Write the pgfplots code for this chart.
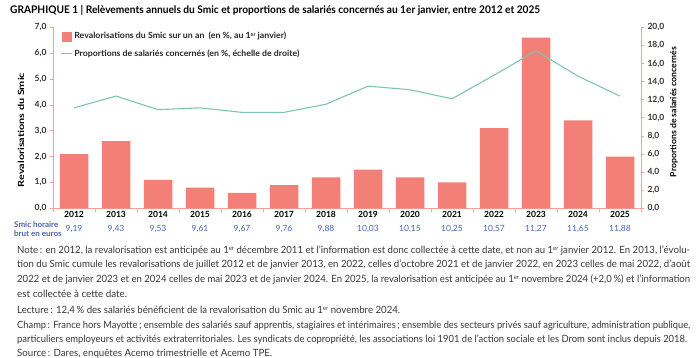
\documentclass[border=0pt]{standalone}
\usepackage{pgfplots}
\pgfplotsset{compat=1.18}
\usepackage{pgfplotstable}
\usepackage{graphicx}
\usepackage{fontspec}
\setmainfont{Lato}
\definecolor{barc}{RGB}{242,128,118}
\definecolor{linec}{RGB}{125,196,178}
\definecolor{axc}{RGB}{245,160,152}
\definecolor{smicblue}{RGB}{70,100,175}
\definecolor{notec}{RGB}{55,55,55}
\newsavebox\fitbox
\newcommand\fitto[2]{\sbox\fitbox{#2}\pgfmathsetmacro\fitratio{#1/\the\wd\fitbox}\scalebox{\fitratio}[1]{\usebox\fitbox}}
\newcommand\ers{\raisebox{0.62ex}{\scalebox{0.62}{er}}}
\pgfplotstableread{
x bar prop
0 2.1 11.1
1 2.6 12.4
2 1.1 10.9
3 0.8 11.1
4 0.6 10.6
5 0.9 10.6
6 1.2 11.5
7 1.5 13.5
8 1.2 13.1
9 1.0 12.1
10 3.1 14.7
11 6.6 17.4
12 3.4 14.6
13 2.0 12.4
}\data
\begin{document}
\begin{tikzpicture}
\path[use as bounding box] (0pt,0pt) rectangle (700pt,-358pt);
\begin{axis}[
  at={(53pt,-208.3pt)}, anchor=south west,
  width=588pt, height=181pt, scale only axis,
  xmin=-0.5, xmax=13.5, ymin=0, ymax=7,
  axis y line*=left, axis x line*=bottom,
  axis line style={draw=axc, line width=0.8pt, -},
  /pgf/number format/assume math mode=true,
  ytick={0,1,...,7},
  yticklabel style={font=\bfseries\fontsize{8.5}{10}\selectfont, text=black!80,
    /pgf/number format/.cd, fixed, fixed zerofill, precision=1, use comma},
  ytick style={draw=axc, line width=0.6pt},
  tick align=outside, major tick length=3pt,
  xtick={0,...,13},
  major x tick style={draw=none},
  minor xtick={-0.5,0.5,...,13.5},
  minor x tick style={draw=gray!50, line width=0.5pt},
  minor tick length=4pt,
  xticklabels={
    {\textbf{2012}\\\textcolor{smicblue}{9,19}},
    {\textbf{2013}\\\textcolor{smicblue}{9,43}},
    {\textbf{2014}\\\textcolor{smicblue}{9,53}},
    {\textbf{2015}\\\textcolor{smicblue}{9,61}},
    {\textbf{2016}\\\textcolor{smicblue}{9,67}},
    {\textbf{2017}\\\textcolor{smicblue}{9,76}},
    {\textbf{2018}\\\textcolor{smicblue}{9,88}},
    {\textbf{2019}\\\textcolor{smicblue}{10,03}},
    {\textbf{2020}\\\textcolor{smicblue}{10,15}},
    {\textbf{2021}\\\textcolor{smicblue}{10,25}},
    {\textbf{2022}\\\textcolor{smicblue}{10,57}},
    {\textbf{2023}\\\textcolor{smicblue}{11,27}},
    {\textbf{2024}\\\textcolor{smicblue}{11,65}},
    {\textbf{2025}\\\textcolor{smicblue}{11,88}}},
  xticklabel style={align=center, font=\fontsize{8.5}{14}\selectfont, text=black, inner sep=1pt, yshift=1pt},
  ybar, bar width=28.5pt,
  clip=false,
]
\addplot[fill=barc, draw=none] table[x=x, y=bar] {\data};
\end{axis}
\begin{axis}[
  at={(53pt,-208.3pt)}, anchor=south west,
  width=588pt, height=181pt, scale only axis,
  xmin=-0.5, xmax=13.5, ymin=0, ymax=20,
  axis y line*=right, axis x line=none,
  axis line style={draw=axc, line width=0.8pt, -},
  /pgf/number format/assume math mode=true,
  ytick={0,2,...,20},
  yticklabel style={font=\bfseries\fontsize{8.5}{10}\selectfont, text=black!80,
    /pgf/number format/.cd, fixed, fixed zerofill, precision=1, use comma},
  ytick style={draw=axc, line width=0.6pt},
  tick align=outside, major tick length=3pt,
  legend style={at={(0.012,0.985)}, anchor=north west, draw=none, fill=none,
    inner sep=0pt, row sep=5pt,
    font=\bfseries\fontsize{8.5}{10}\selectfont, text=black!85,
    /tikz/every even column/.style={column sep=6pt}},
  legend cell align=left,
]
\addlegendimage{legend image code/.code={\fill[barc] (0pt,-4.5pt) rectangle (9pt,4.5pt);}}
\addlegendentry{\fitto{212}{\bfseries\fontsize{8.5}{10}\selectfont Revalorisations du Smic sur un an\ \ (en \%, au 1\ers\ janvier)}}
\addplot[linec, line width=1.1pt, legend image code/.code={\draw[linec,line width=1.1pt] (-1pt,0pt) -- (10pt,0pt);}] table[x=x, y=prop] {\data};
\addlegendentry{\fitto{225}{\bfseries\fontsize{8.5}{10}\selectfont Proportions de salariés concernés (en \%, échelle de droite)}}
\end{axis}
% texts
\node[anchor=west, inner sep=0pt] at (10pt,-10pt) {\fitto{530}{\bfseries\fontsize{10.5}{12}\selectfont GRAPHIQUE 1 | Relèvements annuels du Smic et proportions de salariés concernés au 1er janvier, entre 2012 et 2025}};
\node[rotate=90, inner sep=0pt] at (21pt,-130pt) {\fitto{114}{\bfseries\fontsize{8.5}{10}\selectfont Revalorisations du Smic}};
\node[rotate=90, inner sep=0pt] at (674pt,-112pt) {\fitto{130}{\bfseries\fontsize{8.5}{10}\selectfont Proportions de salariés concernés}};
\node[align=left, inner sep=0pt, text=smicblue, font=\bfseries\fontsize{8}{9.5}\selectfont, anchor=west] at (14pt,-229pt) {Smic horaire\\brut en euros};
\begin{scope}[every node/.style={anchor=base west, inner sep=0pt, text=notec, font=\fontsize{10}{12}\selectfont}]
\node at (17pt,-253.5pt) {\fitto{673}{Note\,: en 2012, la revalorisation est anticipée au 1\ers\ décembre 2011 et l’information est donc collectée à cette date, et non au 1\ers\ janvier 2012. En 2013, l’évolu-}};
\node at (17pt,-267.5pt) {\fitto{673}{tion du Smic cumule les revalorisations de juillet 2012 et de janvier 2013, en 2022, celles d’octobre 2021 et de janvier 2022, en 2023 celles de mai 2022, d’août}};
\node at (17pt,-282.5pt) {\fitto{673}{2022 et de janvier 2023 et en 2024 celles de mai 2023 et de janvier 2024. En 2025, la revalorisation est anticipée au 1\ers\ novembre 2024 (+2,0\,\%) et l’information}};
\node at (17pt,-297pt) {\fitto{110}{est collectée à cette date.}};
\node at (17pt,-313.5pt) {\fitto{383}{Lecture\,: 12,4\,\% des salariés bénéficient de la revalorisation du Smic au 1\ers\ novembre 2024.}};
\node at (17pt,-328.5pt) {\fitto{673}{Champ\,: France hors Mayotte\,; ensemble des salariés sauf apprentis, stagiaires et intérimaires\,; ensemble des secteurs privés sauf agriculture, administration publique,}};
\node at (17pt,-342.5pt) {\fitto{670}{particuliers employeurs et activités extraterritoriales. Les syndicats de copropriété, les associations loi 1901 de l’action sociale et les Drom sont inclus depuis 2018.}};
\node at (17pt,-356pt) {\fitto{255}{Source\,: Dares, enquêtes Acemo trimestrielle et Acemo TPE.}};
\end{scope}
\end{tikzpicture}
\end{document}
